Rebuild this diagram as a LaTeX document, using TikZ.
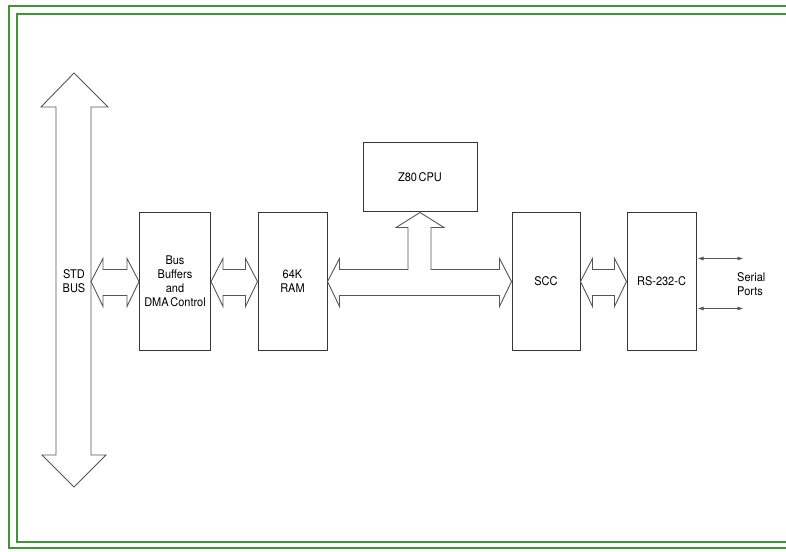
\documentclass[tikz,border=0pt]{standalone}
\usepackage{fontspec}
\setmainfont[FakeStretch=0.92]{TeX Gyre Heros}
\usetikzlibrary{calc,arrows.meta}
\definecolor{framegreen}{RGB}{62,150,52}
\definecolor{boxline}{RGB}{55,55,55}
\definecolor{arrline}{RGB}{85,85,85}
\tikzset{
  blockbox/.style={draw=boxline,line width=1bp,fill=white,inner sep=0pt,
    font=\fontsize{12}{14}\selectfont,align=center},
  fatline/.style={draw=arrline,line width=0.9bp,line join=miter},
  frameline/.style={draw=framegreen,line width=2bp},
  portarrow/.style={draw=arrline,line width=0.8bp,{Latex[length=6bp,width=4bp]}-{Latex[length=6bp,width=4bp]}},
  lbl/.style={font=\fontsize{12}{14}\selectfont,align=center,inner sep=0pt}
}
\newcommand\hfat[2]{%
  \draw[fatline] (#1) -- ($(#1)+(12,-23)$) -- ($(#1)+(12,-12)$) -- ($(#2)+(-12,-12)$)
    -- ($(#2)+(-12,-23)$) -- (#2) -- ($(#2)+(-12,25)$) -- ($(#2)+(-12,14)$)
    -- ($(#1)+(12,14)$) -- ($(#1)+(12,25)$) -- cycle;}
\begin{document}
\begin{tikzpicture}[x=1bp,y=-1bp]
\useasboundingbox (0,0) rectangle (786,552);
% frame
\draw[frameline] (790,6) -- (9,6) -- (9,548) -- (790,548);
\draw[frameline] (790,14) -- (17,14) -- (17,542) -- (790,542);
% STD bus vertical double arrow
\draw[fatline] (74,73) -- (108,107) -- (91,107) -- (91,455) -- (106,455) -- (74,487)
  -- (42,455) -- (56,455) -- (56,107) -- (41,107) -- cycle;
\coordinate (stdr) at (91,281.5);
\node[lbl] (std) at (74,281.5) {STD\\BUS};
% blocks
\node[blockbox,minimum width=71bp,minimum height=137bp] (bb) at (175,281.5) {Bus\\Buffers\\and\\DMA\kern-0.12em\ Control};
\node[blockbox,minimum width=69bp,minimum height=137bp] (ram) at (292.5,281.5) {64K\\RAM};
\node[blockbox,minimum width=114bp,minimum height=69bp] (cpu) at (420,177.5) {Z80\kern-0.12em\ CPU};
\node[blockbox,minimum width=68bp,minimum height=137bp] (scc) at (546,281.5) {SCC};
\node[blockbox,minimum width=69bp,minimum height=137bp] (rs) at (661.5,281.5) {RS-232-C};
% fat arrows
\hfat{stdr}{bb.west}
\hfat{bb.east}{ram.west}
\hfat{scc.east}{rs.west}
% T-shaped bus arrow
\coordinate (sl) at ($(cpu.south)+(-12,0)$);
\coordinate (sr) at ($(cpu.south)+(11,0)$);
\coordinate (st) at ($(ram.east)+(0,-12)$);
\draw[fatline] (ram.east) -- ($(ram.east)+(12,-23)$) -- ($(ram.east)+(12,-12)$)
  -- (sl |- st) -- ($(cpu.south)+(-12,15)$) -- ($(cpu.south)+(-24,15)$) -- (cpu.south)
  -- ($(cpu.south)+(24,15)$) -- ($(cpu.south)+(11,15)$) -- (sr |- st)
  -- ($(scc.west)+(-12,-12)$) -- ($(scc.west)+(-12,-23)$) -- (scc.west)
  -- ($(scc.west)+(-12,25)$) -- ($(scc.west)+(-12,14)$)
  -- ($(ram.east)+(12,14)$) -- ($(ram.east)+(12,25)$) -- cycle;
% serial ports
\draw[portarrow] ($(rs.east)+(1,-23)$) -- ++(46,0);
\draw[portarrow] ($(rs.east)+(1,27)$) -- ++(46,0);
\node[lbl,anchor=west,align=left] (ports) at (737,284) {Serial\\Ports};
\end{tikzpicture}
\end{document}
